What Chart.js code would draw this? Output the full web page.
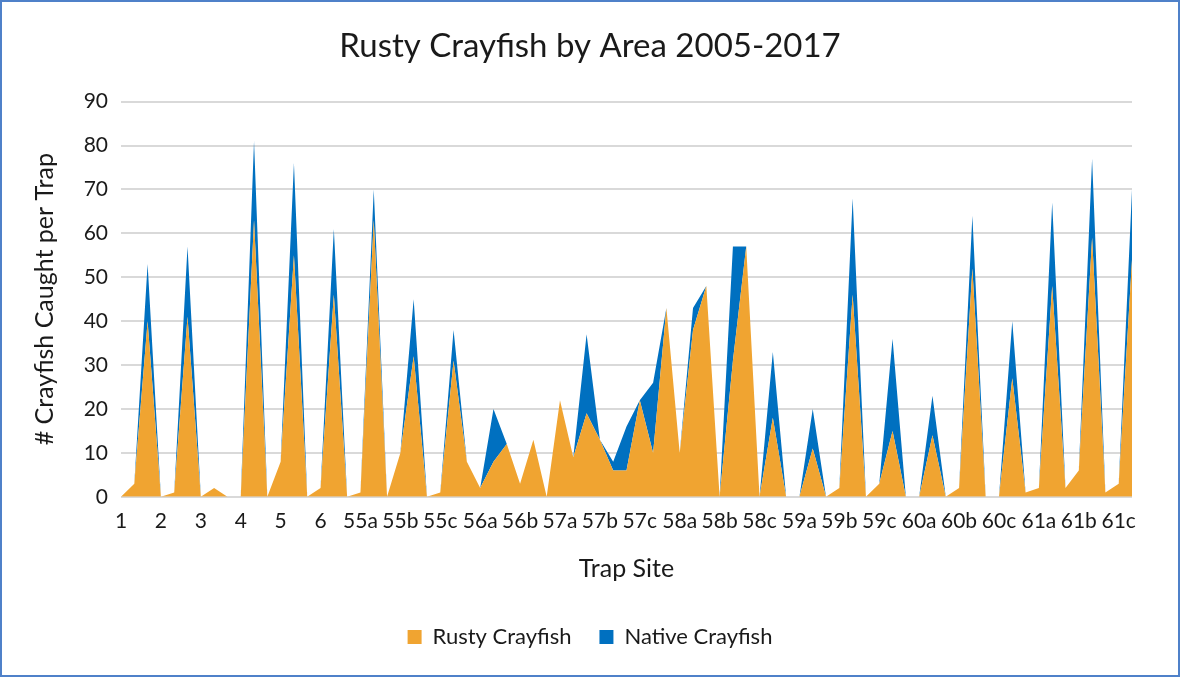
<!DOCTYPE html>
<html>
<head>
<meta charset="utf-8">
<script src="https://cdn.jsdelivr.net/npm/chart.js@4.4.1/dist/chart.umd.min.js"></script>
<style>
  html, body { margin: 0; padding: 0; background: #fff; }
  canvas { display: block; }
</style>
</head>
<body>
<canvas id="chart" width="1180" height="677"></canvas>
<script>
// sites shown on the axis (every third trap is labelled)
const trapSites = ['1', '2', '3', '4', '5', '6', '55a', '55b', '55c', '56a', '56b', '57a', '57b',
    '57c', '58a', '58b', '58c', '59a', '59b', '59c', '60a', '60b', '60c', '61a', '61b', '61c'];

// crayfish caught per trap
const rustyCrayfish = [0, 3, 40, 0, 1, 41, 0, 2, 0, 0, 63, 0, 8, 55, 0, 2, 46, 0, 1, 63,
    0, 10, 32, 0, 1, 31, 8, 2, 8, 12, 3, 13, 0, 22, 9, 19, 13, 6, 6, 22,
    10, 43, 10, 38, 48, 0, 31, 57, 0, 18, 0, 0, 11, 0, 2, 46, 0, 3, 15, 0,
    0, 14, 0, 2, 52, 0, 0, 27, 1, 2, 48, 2, 6, 59, 1, 3, 54];
const nativeCrayfish = [0, 0, 13, 0, 0, 16, 0, 0, 0, 0, 18, 0, 0, 21, 0, 0, 15, 0, 0, 7,
    0, 0, 13, 0, 0, 7, 0, 0, 12, 0, 0, 0, 0, 0, 0, 18, 0, 2, 10, 0,
    16, 0, 0, 5, 0, 0, 26, 0, 0, 15, 0, 0, 9, 0, 0, 22, 0, 0, 21, 0,
    0, 9, 0, 0, 12, 0, 0, 13, 0, 0, 19, 0, 0, 18, 0, 0, 16];

const categories = rustyCrayfish.map((_, i) => i % 3 === 0 && trapSites[i / 3] ? trapSites[i / 3] : '');

const FONT = "Lato, 'Open Sans', sans-serif";
const TEXT = '#1a1a1a';

// fond blanc + cadre bleu
const frame = {
    id: 'frame',
    beforeDraw(chart) {
        const ctx = chart.ctx;
        ctx.save();
        ctx.fillStyle = '#fff';
        ctx.fillRect(0, 0, chart.width, chart.height);
        ctx.restore();
    },
    afterDraw(chart) {
        const ctx = chart.ctx;
        ctx.save();
        ctx.strokeStyle = '#4f81c9';
        ctx.lineWidth = 2;
        ctx.strokeRect(1, 1, chart.width - 2, chart.height - 2);
        ctx.restore();
    }
};

new Chart(document.getElementById('chart').getContext('2d'), {
    type: 'line',
    data: {
        labels: categories,
        datasets: [
            {
                label: 'Rusty Crayfish',
                data: rustyCrayfish,
                backgroundColor: '#f0a431',
                borderColor: '#f0a431',
                borderWidth: 0,
                pointRadius: 0,
                tension: 0,
                fill: 'origin'
            },
            {
                label: 'Native Crayfish',
                data: nativeCrayfish,
                backgroundColor: '#0070c0',
                borderColor: '#0070c0',
                borderWidth: 0,
                pointRadius: 0,
                tension: 0,
                fill: '-1'
            }
        ]
    },
    options: {
        responsive: false,
        animation: false,
        layout: { padding: { top: 10, left: 10, right: 10, bottom: 19 } },
        plugins: {
            title: {
                display: true,
                text: 'Rusty Crayfish by Area 2005-2017',
                color: TEXT,
                font: { family: FONT, size: 33, weight: 'normal' },
                padding: { top: 17, bottom: 35 }
            },
            legend: {
                position: 'bottom',
                labels: {
                    color: TEXT,
                    font: { family: FONT, size: 22 },
                    boxWidth: 14,
                    boxHeight: 14,
                    padding: 28
                }
            },
            tooltip: { enabled: false }
        },
        scales: {
            x: {
                grid: { display: false, drawTicks: false },
                border: { display: false },
                ticks: {
                    color: TEXT,
                    font: { family: FONT, size: 21 },
                    autoSkip: false,
                    maxRotation: 0,
                    padding: 12
                },
                title: {
                    display: true,
                    text: 'Trap Site',
                    color: TEXT,
                    font: { family: FONT, size: 25 },
                    padding: { top: 8, bottom: 14 }
                }
            },
            y: {
                stacked: true,
                min: 0,
                max: 90,
                grid: { color: '#d9d9d9', lineWidth: 2, drawTicks: false },
                border: { display: false },
                ticks: {
                    stepSize: 10,
                    color: TEXT,
                    font: { family: FONT, size: 21 },
                    padding: 13
                },
                title: {
                    display: true,
                    text: '# Crayfish Caught per Trap',
                    color: TEXT,
                    font: { family: FONT, size: 25 },
                    padding: { top: 20, bottom: 0 }
                },
                afterFit(scale) { scale.width = 111; }
            },
            // empty right margin so title and legend stay centred on the whole frame
            spacer: {
                position: 'right',
                grid: { display: false, drawTicks: false },
                border: { display: false },
                ticks: { display: false },
                afterFit(scale) { scale.width = 38; }
            }
        }
    },
    plugins: [frame]
});
</script>
</body>
</html>
